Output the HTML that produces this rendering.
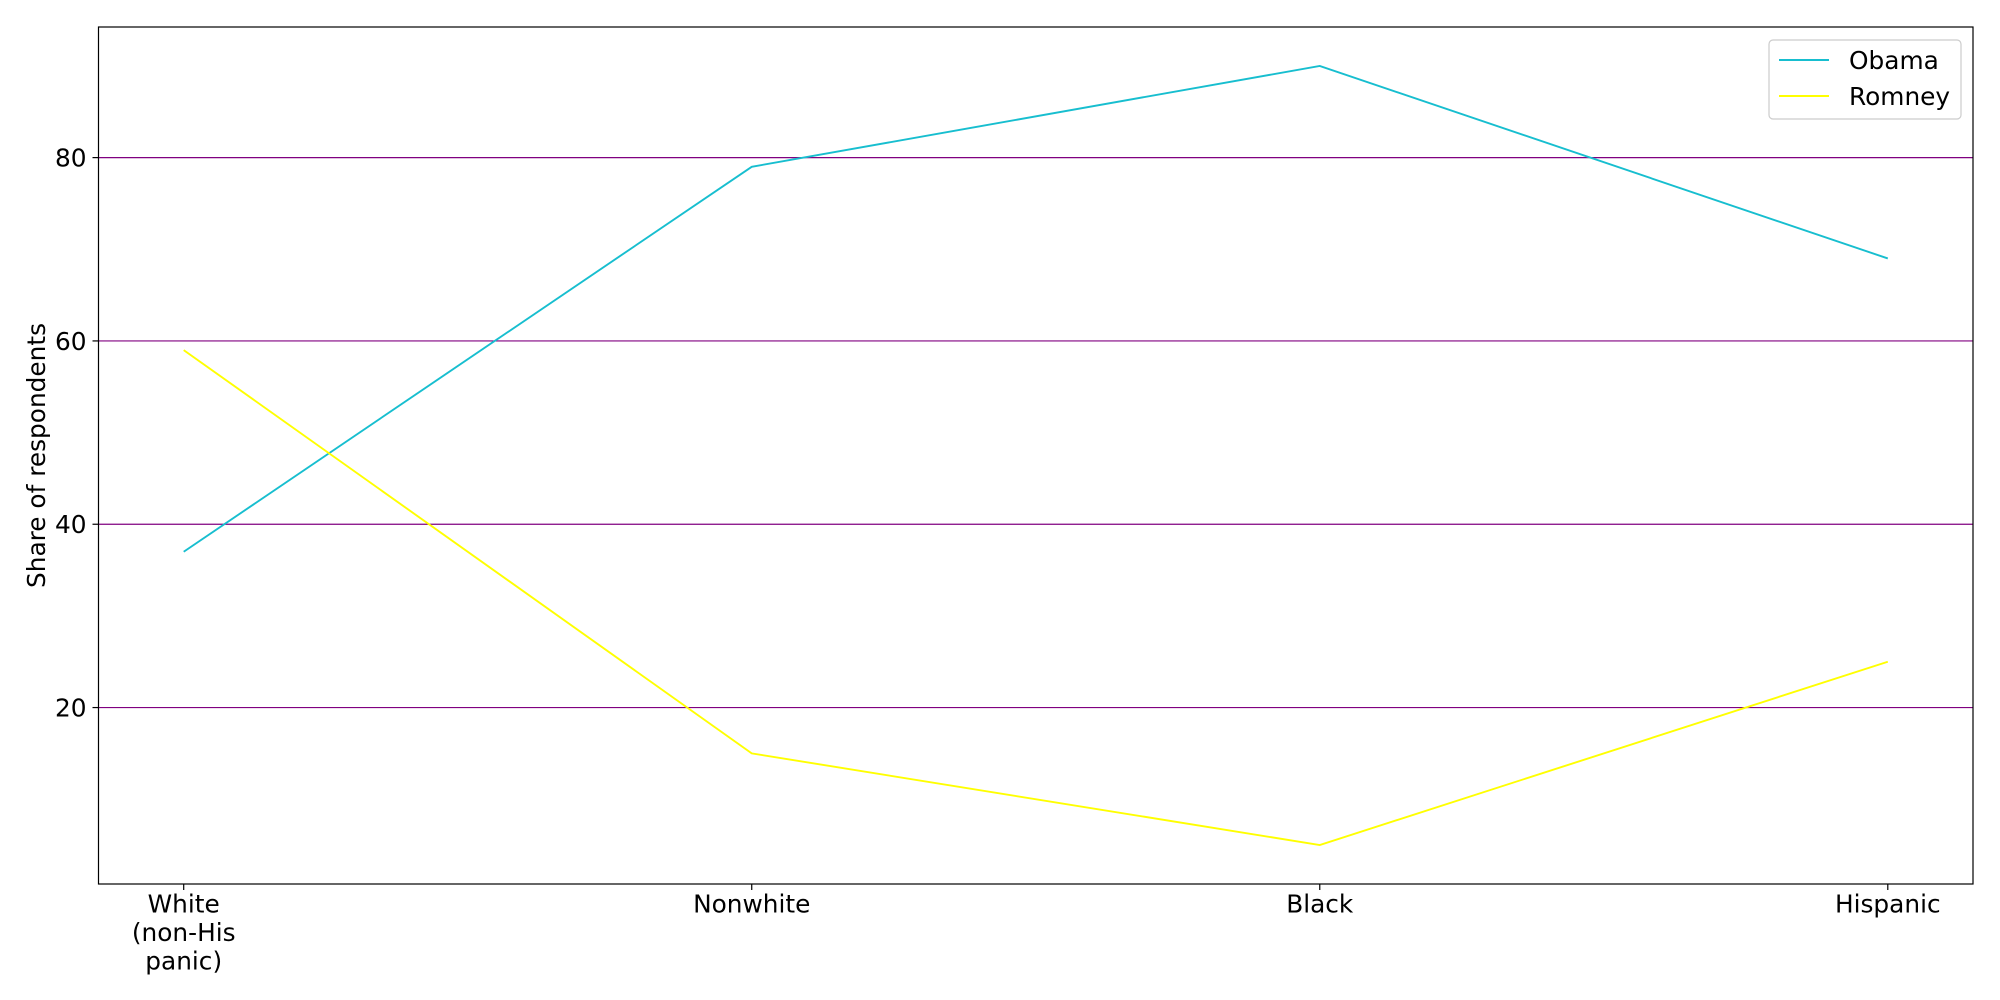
<!DOCTYPE html>
<html><head><meta charset="utf-8"><style>
html,body{margin:0;padding:0;background:#fff;}
svg{display:block;font-family:"DejaVu Sans","Liberation Sans",sans-serif;}
</style></head><body>
<svg id="chart" width="2000" height="1000" xmlns="http://www.w3.org/2000/svg"></svg>
<script>
const categories = ["White\n(non-His\npanic)", "Nonwhite", "Black", "Hispanic"];
const obamaValues = [37, 79, 90, 69];
const romneyValues = [59, 15, 5, 25];
const yTicks = [20, 40, 60, 80];
const seriesNames = ["Obama", "Romney"];

const L = 98.5, R = 1973, T = 27, B = 884;
const FS = 24.8;
const xMin = -0.15, xMax = 3.15, yMin = 0.75, yMax = 94.25;
const NS = "http://www.w3.org/2000/svg";
const svg = document.getElementById("chart");
function xs(i){ return L + (i - xMin) / (xMax - xMin) * (R - L); }
function ys(v){ return B - (v - yMin) / (yMax - yMin) * (B - T); }
function mk(tag, attrs, parent){
  const e = document.createElementNS(NS, tag);
  for (const k in attrs) e.setAttribute(k, attrs[k]);
  (parent || svg).appendChild(e);
  return e;
}

yTicks.forEach(v => {
  const g = mk("line", {x1:L, x2:R, y1:ys(v), y2:ys(v), stroke:"#800080", "stroke-width":1.2});
  
  
  const t = mk("line", {x1:L-6, x2:L, y1:ys(v), y2:ys(v), stroke:"#000", "stroke-width":1.2});
  
  
  const tx = mk("text", {x:L-12, y:ys(v)+9, "text-anchor":"end", "font-size":FS});
  tx.textContent = v;
  
  
});

categories.forEach((c, i) => {
  const t = mk("line", {x1:xs(i), x2:xs(i), y1:B, y2:B+6, stroke:"#000", "stroke-width":1.2});
  
  
  const tx = mk("text", {"text-anchor":"middle", "font-size":FS});
  
  
  c.split("\n").forEach((ln, j) => {
    const s = mk("tspan", {x:xs(i), y:B + 28.5 + j*28.5}, tx);
    s.textContent = ln;
  });
});

const colors = ["#17becf", "#ffff00"];
[obamaValues, romneyValues].forEach((vals, si) => {
  const pts = vals.map((v, i) => xs(i) + "," + ys(v)).join(" ");
  const p = mk("polyline", {points:pts, fill:"none", stroke:colors[si], "stroke-width":1.9});
  
  
});

const fr = mk("rect", {x:L, y:T, width:R-L, height:B-T, fill:"none", stroke:"#000", "stroke-width":1.2});



const yt = mk("text", {x:0, y:0, "text-anchor":"middle", "font-size":FS, transform:"translate(45," + ((T+B)/2) + ") rotate(-90)"});
yt.textContent = "Share of respondents";



const lg = mk("g", {});


mk("rect", {x:1769, y:40, width:192, height:79, rx:4, fill:"#fff", stroke:"#ccc", "stroke-width":1.2}, lg);
seriesNames.forEach((n, i) => {
  const y = 60 + i*36;
  const l = mk("line", {x1:1779, x2:1829, y1:y, y2:y, stroke:colors[i], "stroke-width":1.9}, lg);
  
  
  const t = mk("text", {x:1849, y:y+9, "font-size":FS}, lg);
  t.textContent = n;
  
  
});
</script>
</body></html>
